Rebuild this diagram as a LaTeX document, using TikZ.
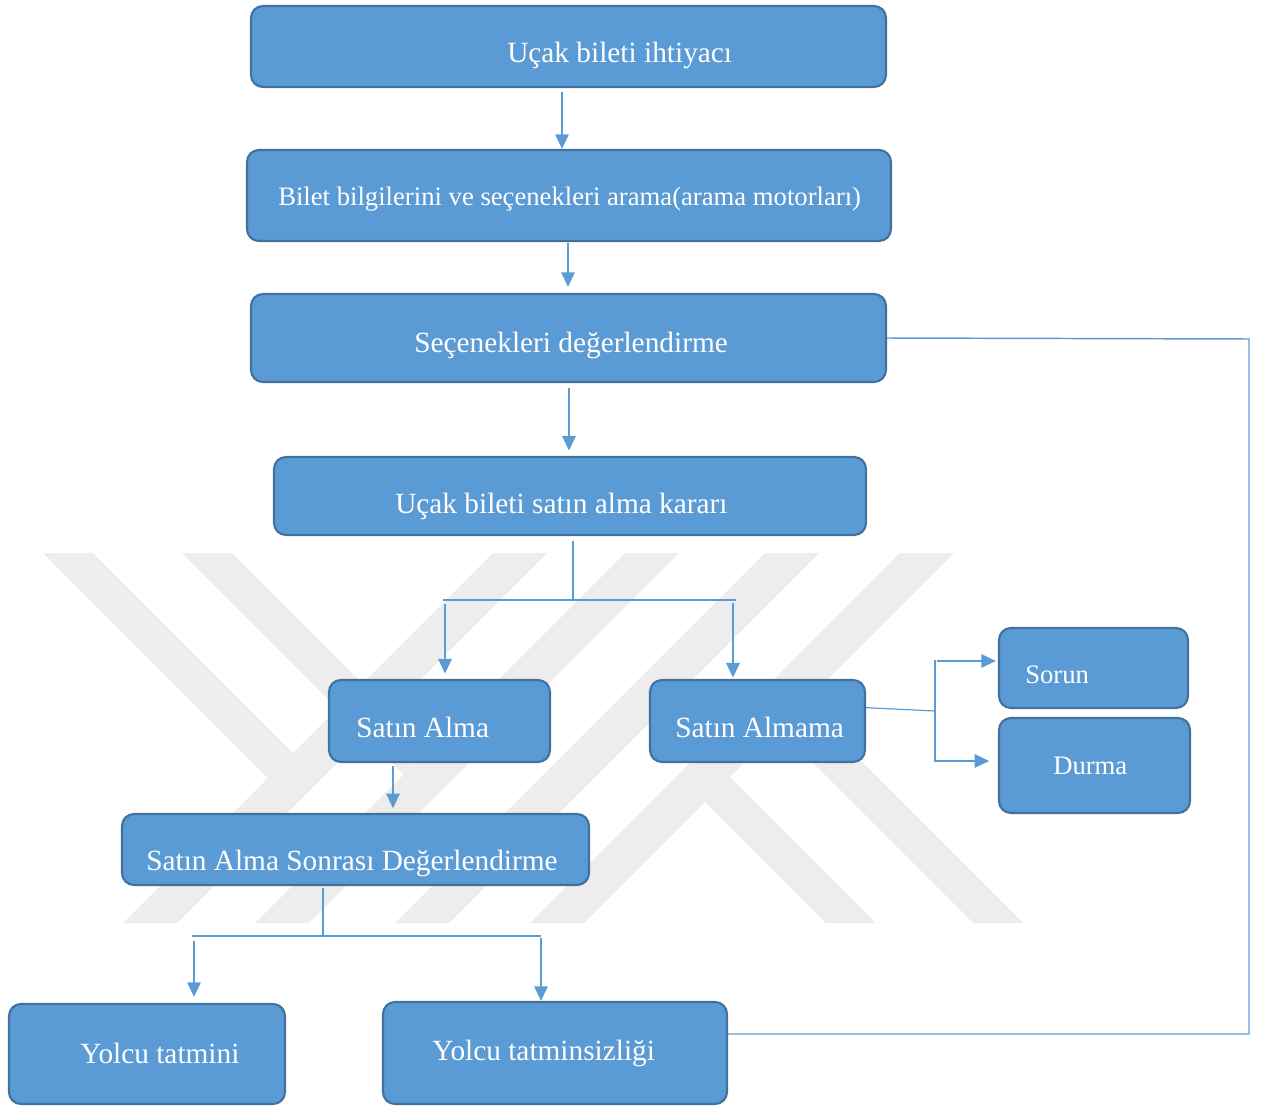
\documentclass[tikz,border=0pt]{standalone}
\usepackage{fontspec}
\setmainfont{Liberation Serif}
\usetikzlibrary{arrows.meta}
\definecolor{boxfill}{HTML}{5B9BD5}
\definecolor{boxline}{HTML}{41719C}
\definecolor{wmgray}{RGB}{237,237,237}
\begin{document}
\begin{tikzpicture}[x=0.75pt,y=-0.75pt,
  flowbox/.style={draw=boxline, line width=1.6pt, fill=boxfill, rounded corners=9pt, inner sep=0pt},
  lbl/.style={text=white, anchor=base west, inner sep=0pt, font=\fontsize{22}{26}\selectfont},
  lblsmall/.style={lbl, font=\fontsize{20}{24}\selectfont},
  flow/.style={draw=boxfill, line width=1.5pt, -{Triangle[length=11pt,width=10pt]}},
  branch/.style={draw=boxfill, line width=0.9pt},
  feedback/.style={draw=boxfill, line width=1.1pt},
  wmbar/.style={fill=wmgray, draw=none},
]
\useasboundingbox (0,0) rectangle (1261,1106);

% background emblem
\fill[wmbar] (43,553) -- (93,553) -- (293,753) -- (268,778) -- cycle;
\fill[wmbar] (182,553) -- (232,553) -- (428.5,749.5) -- (403.5,774.5) -- cycle;
\fill[wmbar] (493,553) -- (547,553) -- (177,923) -- (123,923) -- cycle;
\fill[wmbar] (625,553) -- (679,553) -- (309,923) -- (255,923) -- cycle;
\fill[wmbar] (765,553) -- (819,553) -- (449,923) -- (395,923) -- cycle;
\fill[wmbar] (900,553) -- (954,553) -- (584,923) -- (530,923) -- cycle;
\fill[wmbar] (730,777) -- (876,923) -- (826,923) -- (705,802) -- cycle;
\fill[wmbar] (803.5,703.5) -- (1023,923) -- (973,923) -- (778.5,728.5) -- cycle;

% boxes
\node[flowbox, minimum width=476.25pt, minimum height=60.75pt] (b1) at (568.5,46.5) {};
\node[flowbox, minimum width=483pt, minimum height=68.25pt] (b2) at (569,195.5) {};
\node[flowbox, minimum width=476.25pt, minimum height=66pt] (b3) at (568.5,338) {};
\node[flowbox, minimum width=444pt, minimum height=58.5pt] (b4) at (570,496) {};
\node[flowbox, minimum width=165.75pt, minimum height=61.5pt] (b5) at (439.5,721) {};
\node[flowbox, minimum width=161.25pt, minimum height=61.5pt] (b6) at (757.5,721) {};
\node[flowbox, minimum width=141.75pt, minimum height=60pt] (b7) at (1093.5,668) {};
\node[flowbox, minimum width=143.25pt, minimum height=71.25pt] (b8) at (1094.5,765.5) {};
\node[flowbox, minimum width=350.25pt, minimum height=53.25pt] (b9) at (355.5,849.5) {};
\node[flowbox, minimum width=207pt, minimum height=75pt] (b10) at (147,1054) {};
\node[flowbox, minimum width=258pt, minimum height=76.5pt] (b11) at (555,1053) {};

% labels
\node[lbl] (t1) at (507,63) {Uçak bileti ihtiyacı};
\node[lblsmall] (t2) at (278,205) {Bilet bilgilerini ve seçenekleri arama(arama motorları)};
\node[lbl] (t3) at (414,352) {Seçenekleri değerlendirme};
\node[lbl] (t4) at (395,513) {Uçak bileti satın alma kararı};
\node[lbl] (t5) at (356,737) {Satın Alma};
\node[lbl] (t6) at (675,737) {Satın Almama};
\node[lblsmall] (t7) at (1025,683) {Sorun};
\node[lblsmall] (t8) at (1053,774) {Durma};
\node[lbl] (t9) at (146,870) {Satın Alma Sonrası Değerlendirme};
\node[lbl] (t10) at (80,1063) {Yolcu tatmini};
\node[lbl] (t11) at (432,1060) {Yolcu tatminsizliği};

% main chain
\coordinate (s2) at (562,92);
\draw[flow] (s2) -- (s2 |- b2.north);
\coordinate (s3) at (568,243);
\draw[flow, shorten >=4.5pt] (s3) -- (s3 |- b3.north);
\coordinate (s4) at (569,388);
\draw[flow, shorten >=4pt] (s4) -- (s4 |- b4.north);

% decision split
\coordinate (j1) at (573,600);
\coordinate (j1l) at (443,600);
\coordinate (j1r) at (736,600);
\draw[branch, shorten <=4pt] (b4.south -| j1) -- (j1);
\draw[branch] (j1l) -- (j1r);
\coordinate (s5) at (445,604);
\draw[flow, shorten >=4pt] (s5) -- (s5 |- b5.north);
\coordinate (s6) at (733,603);
\draw[flow, shorten >=1pt] (s6) -- (s6 |- b6.north);

% purchase path
\coordinate (s9) at (393,766);
\draw[flow, shorten >=3.5pt] (s9) -- (s9 |- b9.north);

% no purchase path
\coordinate (j2) at (935,711);
\coordinate (j2t) at (935,660);
\coordinate (j2b) at (935,762);
\draw[branch] ([yshift=10pt]b6.east) -- (j2);
\draw[branch] (j2t) -- (j2b);
\coordinate (s7) at (937,661);
\draw[flow, shorten >=1.5pt] (s7) -- (s7 -| b7.west);
\coordinate (s8) at (935,761);
\draw[flow, shorten >=6.5pt] (s8) -- (s8 -| b8.west);

% post-purchase split
\coordinate (j3) at (323,936);
\coordinate (j3l) at (192,936);
\coordinate (j3r) at (541,936);
\draw[branch, shorten <=1.5pt] (b9.south -| j3) -- (j3);
\draw[branch] (j3l) -- (j3r);
\coordinate (s10) at (194,941);
\draw[flow, shorten >=4.5pt] (s10) -- (s10 |- b10.north);
\coordinate (s11) at (541,938);
\draw[flow] (s11) -- (s11 |- b11.north);

% feedback loop
\coordinate (fb1) at (1249,339);
\coordinate (fb2) at (1249,1034);
\draw[feedback] (b3.east) -- (fb1) -- (fb2) -- (fb2 -| b11.east);
\end{tikzpicture}
\end{document}
